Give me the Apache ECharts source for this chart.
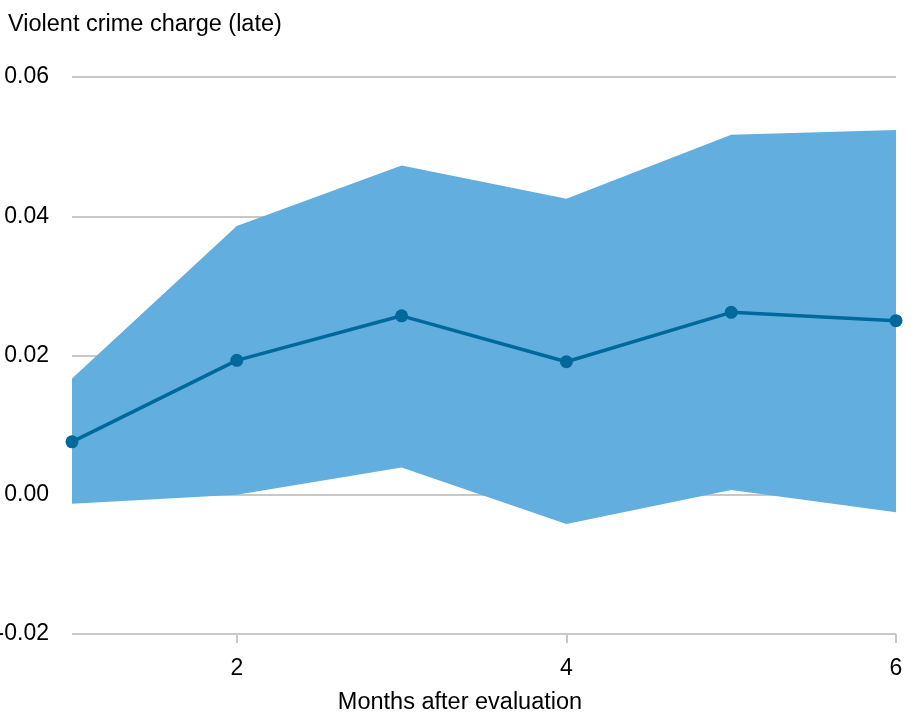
<!DOCTYPE html>
<html>
<head>
<meta charset="utf-8">
<script src="https://cdn.jsdelivr.net/npm/echarts@6/dist/echarts.min.js"></script>
<style>html,body{margin:0;padding:0;background:#fff}#c{width:920px;height:718px}</style>
</head>
<body>
<div id="c"></div>
<script>
var months = [1, 2, 3, 4, 5, 6];
var estimate = [0.0076, 0.0193, 0.0257, 0.0191, 0.0262, 0.0250];
var upperCI = [0.0167, 0.0386, 0.0473, 0.0425, 0.0517, 0.0524];
var lowerCI = [-0.0013, 0.0000, 0.0039, -0.0042, 0.0007, -0.0025];
var xTickValues = [2, 4, 6];
var yTitle = 'Violent crime charge (late)';
var xTitle = 'Months after evaluation';

var font = 'Liberation Sans, Arial, sans-serif';
var chart = echarts.init(document.getElementById('c'));
var bandData = months.map(function (m, i) { return [m, lowerCI[i], upperCI[i]]; });
var est = months.map(function (m, i) { return [m, estimate[i]]; });

chart.setOption({
  animation: false,
  title: {
    text: yTitle, left: 3, top: 8,
    textStyle: { fontFamily: font, fontSize: 23.5, fontWeight: 'normal', color: '#000' }
  },
  grid: { left: 72, right: 24, top: 77, bottom: 84, containLabel: false, outerBoundsMode: 'none' },
  xAxis: {
    type: 'value', min: 1, max: 6,
    name: xTitle, nameLocation: 'middle', nameGap: 57,
    nameTextStyle: { fontFamily: font, fontSize: 23.5, color: '#000', padding: [0, 48, 0, 0] },
    axisLine: { show: false, onZero: false },
    axisTick: { show: true, customValues: xTickValues, length: 9, lineStyle: { color: '#c8c8c8', width: 2 } },
    axisLabel: { customValues: xTickValues, fontFamily: font, fontSize: 23, color: '#000', margin: 23 },
    splitLine: { show: false }
  },
  yAxis: {
    type: 'value', min: -0.02, max: 0.06, interval: 0.02,
    axisLine: { show: false }, axisTick: { show: false },
    axisLabel: {
      align: 'right', margin: 23, fontFamily: font, fontSize: 23, color: '#000',
      formatter: function (v) { return v.toFixed(2); }
    },
    splitLine: { lineStyle: { color: '#c8c8c8', width: 2 } }
  },
  series: [
    {
      type: 'custom', data: bandData, silent: true, z: 2,
      encode: { x: 0, y: [1, 2] },
      renderItem: function (params, api) {
        if (params.dataIndex !== 0) return null;
        var pts = [];
        for (var i = 0; i < bandData.length; i++) pts.push(api.coord([bandData[i][0], bandData[i][2]]));
        for (var j = bandData.length - 1; j >= 0; j--) pts.push(api.coord([bandData[j][0], bandData[j][1]]));
        return { type: 'polygon', shape: { points: pts }, style: { fill: '#61aedf' } };
      }
    },
    { type: 'line', data: est, symbol: 'circle', symbolSize: 13,
      lineStyle: { color: '#00699c', width: 3.5 }, itemStyle: { color: '#00699c' }, z: 5 }
  ]
});
</script>
</body>
</html>
